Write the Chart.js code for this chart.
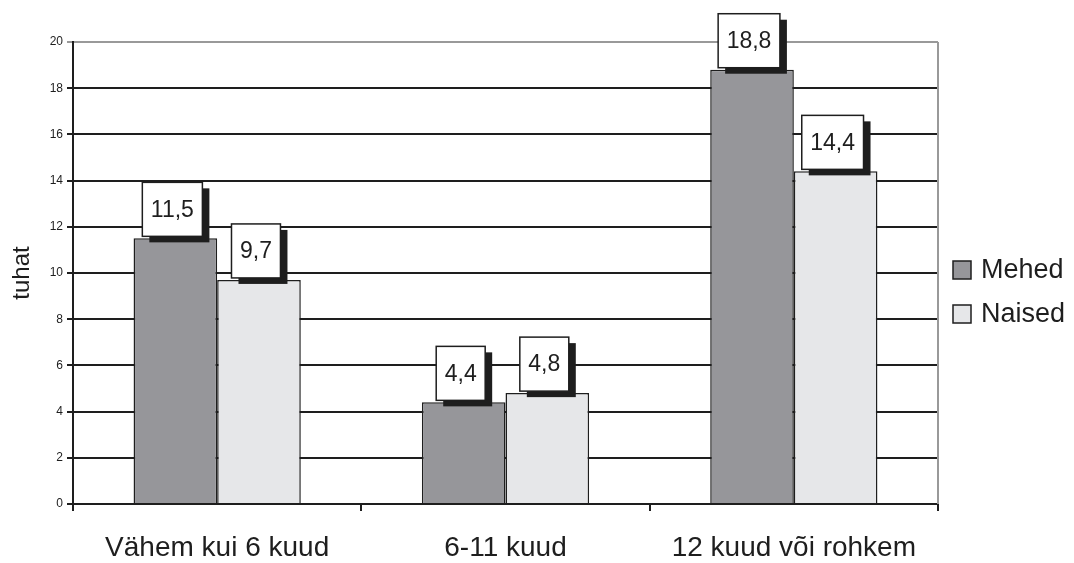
<!DOCTYPE html>
<html>
<head>
<meta charset="utf-8">
<script src="https://cdn.jsdelivr.net/npm/chart.js@4/dist/chart.umd.min.js"></script>
<style>
  html, body { margin: 0; padding: 0; background: #fff; }
  #wrap { width: 1074px; height: 563px; }
</style>
</head>
<body>
<div id="wrap"><canvas id="unemployChart"></canvas></div>
<script>
const categories = ["Vähem kui 6 kuud", "6-11 kuud", "12 kuud või rohkem"];
const mehed = [11.5, 4.4, 18.8];
const naised = [9.7, 4.8, 14.4];
const yTicks = [0, 2, 4, 6, 8, 10, 12, 14, 16, 18, 20];

Chart.defaults.font.family = "'Liberation Sans', Arial, sans-serif";
Chart.defaults.color = "#1e1e1e";

// value boxes with a drop shadow, like the old spreadsheet style
const valueBoxes = {
  id: "valueBoxes",
  afterDatasetsDraw(chart) {
    const ctx = chart.ctx;
    ctx.save();
    ctx.font = "23px 'Liberation Sans', Arial, sans-serif";
    chart.data.datasets.forEach((ds, i) => {
      chart.getDatasetMeta(i).data.forEach((bar, j) => {
        const txt = ds.data[j].toFixed(1).replace(".", ",");
        const w = ctx.measureText(txt).width + 17;
        const h = 54;
        const x = bar.x - 3 - w / 2;
        const y = bar.y - 2 - h;
        ctx.fillStyle = "#1e1e1e";
        ctx.fillRect(x + 7, y + 6, w, h);
        ctx.fillStyle = "#fff";
        ctx.fillRect(x, y, w, h);
        ctx.strokeStyle = "#1e1e1e";
        ctx.lineWidth = 1.5;
        ctx.strokeRect(x, y, w, h);
        ctx.fillStyle = "#1e1e1e";
        ctx.textAlign = "center";
        ctx.textBaseline = "middle";
        ctx.fillText(txt, x + w / 2, y + h / 2 + 1);
      });
    });
    ctx.restore();
  },
};

// right frame line + legend on the right
const frameAndLegend = {
  id: "frameAndLegend",
  afterDraw(chart) {
    const ctx = chart.ctx;
    const a = chart.chartArea;
    ctx.save();
    ctx.strokeStyle = "#999";
    ctx.lineWidth = 2;
    ctx.beginPath();
    ctx.moveTo(a.right, a.top);
    ctx.lineTo(a.right, a.bottom);
    ctx.stroke();

    const items = [
      { label: "Mehed", color: "#96969a", y: 261 },
      { label: "Naised", color: "#e6e7e9", y: 305 },
    ];
    ctx.font = "27px 'Liberation Sans', Arial, sans-serif";
    ctx.textBaseline = "middle";
    items.forEach((it) => {
      ctx.fillStyle = it.color;
      ctx.fillRect(953, it.y, 18, 18);
      ctx.strokeStyle = "#1e1e1e";
      ctx.lineWidth = 1.5;
      ctx.strokeRect(953, it.y, 18, 18);
      ctx.fillStyle = "#1e1e1e";
      ctx.fillText(it.label, 981, it.y + 10);
    });
    ctx.restore();
  },
};

new Chart(document.getElementById("unemployChart"), {
  type: "bar",
  data: {
    labels: categories,
    datasets: [
      {
        label: "Mehed",
        data: mehed,
        backgroundColor: "#96969a",
        borderColor: "#1e1e1e",
        borderWidth: 1.5,
      },
      {
        label: "Naised",
        data: naised,
        backgroundColor: "#e6e7e9",
        borderColor: "#1e1e1e",
        borderWidth: 1.5,
      },
    ],
  },
  options: {
    responsive: true,
    maintainAspectRatio: false,
    animation: false,
    layout: { padding: { top: 42, right: 136, bottom: 0, left: 0 } },
    datasets: { bar: { categoryPercentage: 0.58, barPercentage: 1 } },
    plugins: {
      legend: { display: false },
      tooltip: { enabled: false },
    },
    scales: {
      x: {
        afterFit: (s) => { s.height = 59; },
        grid: {
          drawOnChartArea: false,
          drawTicks: true,
          tickLength: 7,
          color: "#1e1e1e",
          lineWidth: 2,
        },
        border: { color: "#1e1e1e", width: 2 },
        ticks: { font: { size: 28 }, padding: 20, color: "#1e1e1e" },
      },
      y: {
        min: 0,
        max: 20,
        afterFit: (s) => { s.width = 73; },
        afterBuildTicks: (s) => { s.ticks = yTicks.map((v) => ({ value: v })); },
        grid: {
          color: (c) => (c.tick && c.tick.value === 20 ? "#999" : "#1e1e1e"),
          lineWidth: 2,
          tickLength: 6,
        },
        border: { color: "#1e1e1e", width: 2 },
        ticks: { font: { size: 12 }, padding: 4, color: "#1e1e1e" },
        title: {
          display: true,
          text: "tuhat",
          font: { size: 24 },
          color: "#1e1e1e",
          padding: { top: 8, bottom: 0 },
        },
      },
    },
  },
  plugins: [valueBoxes, frameAndLegend],
});
</script>
</body>
</html>
